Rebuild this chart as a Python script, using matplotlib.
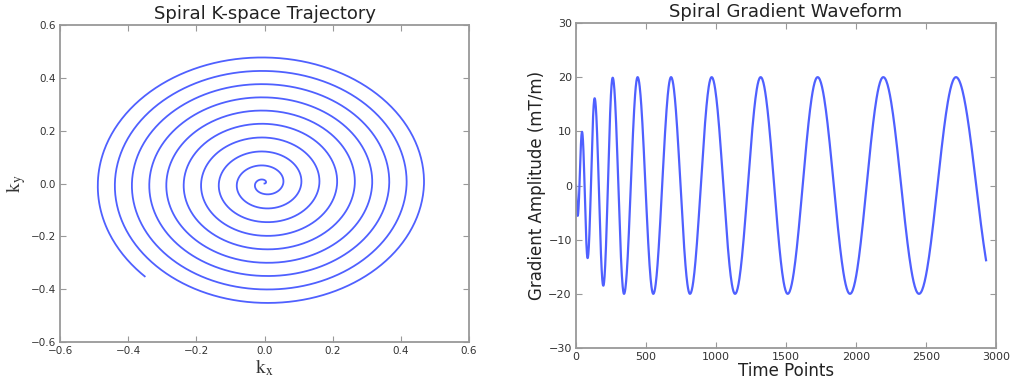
import numpy as np
import matplotlib
matplotlib.use("Agg")
import matplotlib.pyplot as plt

plt.rcParams['mathtext.fontset'] = 'stix'

# ---- spiral k-space trajectory: radius where each ring crosses the axes
# turns n (right side, angle 0), n+0.25 (top), n+0.5 (left), n+0.75 (bottom)
ring_right = [0.0, 0.055, 0.108, 0.161, 0.213, 0.265, 0.316, 0.366, 0.417, 0.468]
ring_top = [0.013, 0.068, 0.121, 0.174, 0.226, 0.276, 0.326, 0.376, 0.426, 0.477]
ring_left = [0.027, 0.081, 0.134, 0.186, 0.237, 0.288, 0.338, 0.389, 0.439, 0.489]
ring_bottom = [0.040, 0.094, 0.146, 0.198, 0.249, 0.300, 0.350, 0.401, 0.452]
spiral_end_turns = 9.625
spiral_end_r = 0.497

# ---- gradient waveform: extrema (time point, mT/m)
wave_t = [0, 12, 43, 83, 133, 195, 262, 343, 440, 552, 679, 814, 969,
          1136, 1319, 1512, 1726, 1957, 2195, 2450, 2714]
wave_g = [0, -5.6, 9.9, -13.4, 16.1, -18.5, 19.9, -20, 20, -20, 20, -20, 20,
          -20, 20, -20, 20, -20, 20, -20, 20]
wave_end_t = 2929
wave_end_g = -13.8

LINE = '#4f60ff'
GREY = '#999999'
TXT = '#333333'

# spiral path through the ring crossings
turns, radii = [], []
for n in range(len(ring_right)):
    turns += [n, n + 0.25, n + 0.5]
    radii += [ring_right[n], ring_top[n], ring_left[n]]
    if n < len(ring_bottom):
        turns.append(n + 0.75)
        radii.append(ring_bottom[n])
turns.append(spiral_end_turns)
radii.append(spiral_end_r)
tt = np.linspace(0, spiral_end_turns, 4000)
rr = np.interp(tt, turns, radii)
kx = rr * np.cos(2 * np.pi * tt)
ky = rr * np.sin(2 * np.pi * tt)

# waveform path: half-cosine pieces between the extrema
wt, wg = [], []
for i in range(len(wave_t) - 1):
    s = np.linspace(0, 1, 60)
    t0, t1, g0, g1 = wave_t[i], wave_t[i + 1], wave_g[i], wave_g[i + 1]
    if i == 0:
        seg = g0 + (g1 - g0) * np.sin(np.pi / 2 * s)
    else:
        seg = g0 + (g1 - g0) * (1 - np.cos(np.pi * s)) / 2
    wt.append(t0 + (t1 - t0) * s)
    wg.append(seg)
amp = wave_g[-1]
half = np.pi * (wave_end_t - wave_t[-1]) / np.arccos(wave_end_g / amp)
s = np.linspace(wave_t[-1], wave_end_t, 60)
wt.append(s)
wg.append(amp * np.cos(np.pi * (s - wave_t[-1]) / half))
wt = np.concatenate(wt)
wg = np.concatenate(wg)

fig = plt.figure(figsize=(10.11, 3.86), dpi=100, facecolor='white')
W, H = 1011, 386
ax1 = fig.add_axes([60 / W, 1 - 342 / H, 409 / W, 317 / H])
ax2 = fig.add_axes([576 / W, 1 - 348 / H, 420 / W, 325 / H])


def style(ax, fs):
    for sp in ax.spines.values():
        sp.set_color(GREY)
        sp.set_linewidth(1.3)
    ax.tick_params(direction='in', top=True, right=True, color=GREY,
                   length=4, width=0.8, labelsize=fs, labelcolor=TXT, pad=3)


ax1.plot(kx, ky, color=LINE, lw=1.3)
ax1.set_xlim(-0.6, 0.6)
ax1.set_ylim(-0.6, 0.6)
ax1.set_xticks(np.arange(-0.6, 0.61, 0.2))
ax1.set_yticks(np.arange(-0.6, 0.61, 0.2))
ax1.set_title('Spiral K-space Trajectory', fontsize=13, color='#222222', pad=4)
ax1.set_xlabel(r'$\mathrm{k_x}$', fontsize=14, color=TXT, labelpad=1)
ax1.set_ylabel(r'$\mathrm{k_y}$', fontsize=14, color=TXT, labelpad=2)
style(ax1, 7.5)

ax2.plot(wt, wg, color=LINE, lw=1.6)
ax2.set_xlim(0, 3000)
ax2.set_ylim(-30, 30)
ax2.set_xticks(np.arange(0, 3001, 500))
ax2.set_yticks(np.arange(-30, 31, 10))
ax2.set_title('Spiral Gradient Waveform', fontsize=13, color='#222222', pad=4)
ax2.set_xlabel('Time Points', fontsize=12, color='#222222', labelpad=0)
ax2.set_ylabel('Gradient Amplitude (mT/m)', fontsize=12, color='#222222', labelpad=2)
style(ax2, 8)

fig.savefig('out.png', dpi=100, facecolor='white')
